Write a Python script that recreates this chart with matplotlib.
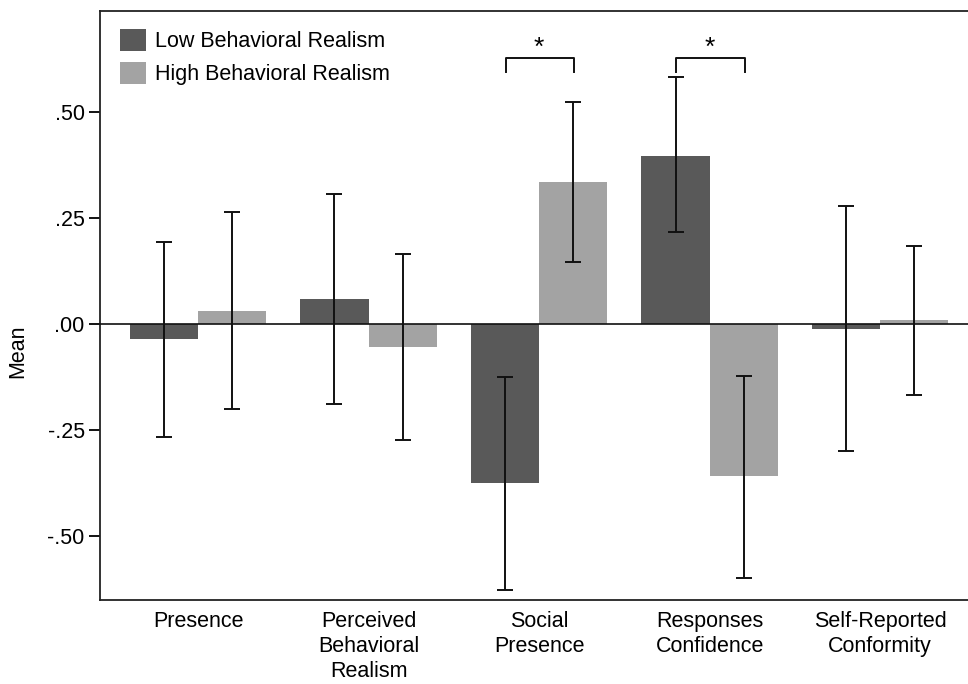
"""Group means with 95% CI bars for low vs high behavioral realism."""

import matplotlib
matplotlib.use("Agg")
import matplotlib.pyplot as plt
import numpy as np

plt.rcParams["font.family"] = ["Liberation Sans", "DejaVu Sans"]

CATEGORIES = [
    "Presence",
    "Perceived\nBehavioral\nRealism",
    "Social\nPresence",
    "Responses\nConfidence",
    "Self-Reported\nConformity",
]
LOW_MEAN = [-0.035, 0.058, -0.375, 0.397, -0.012]
LOW_LOWER = [-0.267, -0.189, -0.627, 0.217, -0.300]
LOW_UPPER = [0.193, 0.307, -0.125, 0.582, 0.278]
HIGH_MEAN = [0.030, -0.054, 0.335, -0.358, 0.009]
HIGH_LOWER = [-0.200, -0.274, 0.147, -0.599, -0.167]
HIGH_UPPER = [0.264, 0.165, 0.524, -0.123, 0.184]
SIGNIFICANT = [2, 3]
YTICKS = [-0.50, -0.25, 0.00, 0.25, 0.50]
YTICK_LABELS = ["-.50", "-.25", ".00", ".25", ".50"]

LOW_COLOR = "#595959"
HIGH_COLOR = "#a3a3a3"
FS = 15.5


def yerr(mean, lower, upper):
    mean = np.array(mean)
    return np.vstack([mean - np.array(lower), np.array(upper) - mean])


def main() -> None:
    fig = plt.figure(figsize=(9.68, 6.84), dpi=100)
    ax = fig.add_axes([0.1033, 0.1228, 0.8967, 0.8611])
    x = np.arange(len(CATEGORIES))
    width = 0.4
    err_kw = {"elinewidth": 1.4, "capthick": 1.4, "ecolor": "#111111"}
    ax.bar(x - width / 2, LOW_MEAN, width, color=LOW_COLOR, label="Low Behavioral Realism",
           yerr=yerr(LOW_MEAN, LOW_LOWER, LOW_UPPER), capsize=6, error_kw=err_kw, zorder=2)
    ax.bar(x + width / 2, HIGH_MEAN, width, color=HIGH_COLOR, label="High Behavioral Realism",
           yerr=yerr(HIGH_MEAN, HIGH_LOWER, HIGH_UPPER), capsize=6, error_kw=err_kw, zorder=2)
    ax.axhline(0, color="#111111", lw=1.2, zorder=3, clip_on=False)

    for idx in SIGNIFICANT:
        x0, x1 = idx - width / 2 + 0.005, idx + width / 2 + 0.005
        ax.plot([x0, x0, x1, x1], [0.595, 0.628, 0.628, 0.595], color="#111111", lw=1.4)
        ax.text(idx, 0.652, "*", ha="center", va="center", fontsize=19)

    ax.set_xlim(-0.575, 4.515)
    ax.set_ylim(-0.651, 0.738)
    ax.set_yticks(YTICKS)
    ax.set_yticklabels(YTICK_LABELS, fontsize=FS)
    ax.set_xticks(x)
    ax.set_xticklabels(CATEGORIES, fontsize=FS, linespacing=1.25)
    ax.tick_params(axis="x", length=0, pad=8)
    ax.tick_params(axis="y", length=8, width=1.3, pad=3)
    ax.set_ylabel("Mean", fontsize=FS, labelpad=20)
    ax.yaxis.set_label_coords(-0.083, 0.423)
    ax.spines["right"].set_visible(False)
    for side in ["left", "bottom", "top"]:
        ax.spines[side].set_linewidth(1.3)
        ax.spines[side].set_color("#222222")

    ax.legend(loc="upper left", bbox_to_anchor=(0.0235, 0.97), frameon=False, fontsize=FS,
              handlelength=1.2, handleheight=1.2, handletextpad=0.4, labelspacing=0.45,
              borderaxespad=0.0, borderpad=0.0)
    fig.savefig("out.png", dpi=100)
    plt.close(fig)


if __name__ == "__main__":
    main()
